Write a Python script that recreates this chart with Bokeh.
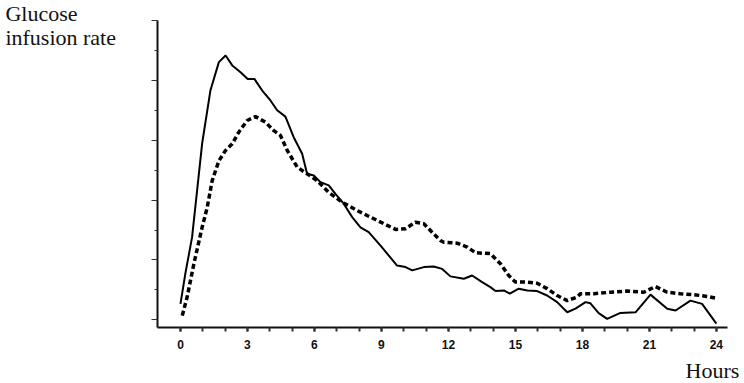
from bokeh.plotting import figure
from bokeh.models import Range1d, FixedTicker, Label
from bokeh.embed import file_html
from bokeh.resources import INLINE

# Solid curve (hours, glucose infusion rate, arbitrary units)
solid_hours = [0.0, 0.22, 0.52, 0.97, 1.34, 1.72, 2.02, 2.32, 2.69, 3.01, 3.31, 3.66, 4.03,
               4.33, 4.70, 5.07, 5.45, 5.67, 5.97, 6.27, 6.64, 6.94, 7.31, 7.69, 8.06, 8.43,
               8.96, 9.70, 10.08, 10.38, 10.90, 11.34, 11.72, 12.09, 12.69, 13.06, 13.51,
               13.88, 14.11, 14.48, 14.75, 15.15, 15.53, 15.97, 16.42, 16.87, 17.32, 17.69,
               18.14, 18.36, 18.73, 19.11, 19.70, 20.38, 21.05, 21.80, 22.17, 22.84, 23.36, 24.0]
solid_rate = [0.53, 1.55, 2.76, 5.89, 7.66, 8.61, 8.83, 8.50, 8.27, 8.05, 8.05, 7.66, 7.33,
              7.00, 6.79, 6.10, 5.55, 4.88, 4.82, 4.60, 4.49, 4.21, 3.88, 3.43, 3.09, 2.93,
              2.48, 1.81, 1.76, 1.65, 1.76, 1.78, 1.70, 1.45, 1.37, 1.48, 1.26,
              1.09, 0.96, 0.98, 0.87, 1.04, 0.98, 0.96, 0.81, 0.59, 0.25, 0.37,
              0.59, 0.55, 0.22, 0.03, 0.23, 0.25, 0.84, 0.37, 0.31, 0.64, 0.53, -0.13]

# Dashed curve
dashed_hours = [0.08, 0.30, 0.60, 0.97, 1.20, 1.42, 1.72, 2.02, 2.32, 2.61, 2.99, 3.36, 3.81,
                4.18, 4.48, 4.78, 5.23, 5.67, 6.12, 6.64, 7.24, 7.91, 8.81, 9.63, 10.08, 10.52,
                10.90, 11.34, 11.64, 11.79, 12.39, 12.84, 13.21, 13.88, 14.33, 14.70, 15.00,
                15.53, 15.97, 16.42, 16.87, 17.32, 17.77, 17.91, 18.51, 19.26, 20.00, 20.75,
                21.27, 21.80, 22.39, 22.99, 23.59, 24.0]
dashed_rate = [0.14, 0.76, 1.87, 3.09, 3.76, 4.65, 5.31, 5.66, 5.88, 6.27, 6.66, 6.79, 6.60,
               6.32, 6.16, 5.66, 5.10, 4.88, 4.65, 4.26, 3.93, 3.65, 3.32, 3.02, 3.04, 3.26,
               3.21, 2.87, 2.65, 2.59, 2.56, 2.43, 2.24, 2.21, 1.87, 1.48, 1.26,
               1.26, 1.22, 1.04, 0.81, 0.64, 0.76, 0.87, 0.87, 0.92, 0.96, 0.92,
               1.11, 0.92, 0.87, 0.84, 0.78, 0.72]

x_major_ticks = [0, 3, 6, 9, 12, 15, 18, 21, 24]
x_minor_ticks = list(range(0, 25))
y_major_ticks = [0, 2, 4, 6, 8, 10]
y_minor_ticks = [1, 3, 5, 7, 9]

X_AXIS_AT = -0.26   # y value where the hour axis runs
Y_AXIS_AT = -1.03   # x value where the rate axis runs

p = figure(width=744, height=383, output_backend="svg", toolbar_location=None,
           x_range=Range1d(-8.06, 25.26), y_range=Range1d(-2.13, 10.67),
           min_border=0)
p.outline_line_color = None
p.xgrid.visible = False
p.ygrid.visible = False
p.background_fill_color = "white"
p.border_fill_color = "white"

xa = p.xaxis[0]
xa.fixed_location = X_AXIS_AT
xa.bounds = (Y_AXIS_AT, 24.5)
xa.ticker = FixedTicker(ticks=x_major_ticks, minor_ticks=x_minor_ticks)
xa.axis_line_width = 2
xa.axis_line_color = "#111111"
xa.major_tick_in = 0
xa.major_tick_out = 4
xa.minor_tick_in = 0
xa.minor_tick_out = 4
xa.major_tick_line_width = 2
xa.minor_tick_line_width = 2
xa.major_tick_line_color = "#333333"
xa.minor_tick_line_color = "#333333"
xa.major_label_text_font = "Liberation Sans"
xa.major_label_text_font_style = "bold"
xa.major_label_text_font_size = "12px"
xa.major_label_text_color = "#111111"
xa.major_label_standoff = 8

ya = p.yaxis[0]
ya.fixed_location = Y_AXIS_AT
ya.bounds = (X_AXIS_AT, 10.0)
ya.ticker = FixedTicker(ticks=y_major_ticks, minor_ticks=y_minor_ticks)
ya.axis_line_width = 2
ya.axis_line_color = "#111111"
ya.major_tick_in = 0
ya.major_tick_out = 6
ya.minor_tick_in = 0
ya.minor_tick_out = 3
ya.major_tick_line_color = "#333333"
ya.minor_tick_line_color = "#333333"
ya.major_label_overrides = {t: "" for t in y_major_ticks}
ya.major_label_text_font_size = "1px"

p.line(solid_hours, solid_rate, line_color="black", line_width=2)
p.line(dashed_hours, dashed_rate, line_color="black", line_width=3.5, line_dash="5 3")

for txt, yy in [("Glucose", 10.23), ("infusion rate", 9.43)]:
    p.add_layout(Label(x=-7.84, y=yy, text=txt, text_font="Liberation Serif",
                       text_font_size="22px", text_color="#111111",
                       text_baseline="alphabetic", text_align="left"))
p.add_layout(Label(x=22.62, y=-1.70, text="Hours", text_font="Liberation Serif",
                   text_font_size="22px", text_color="#111111",
                   text_baseline="alphabetic", text_align="left"))

open("out.html", "w").write(file_html(p, INLINE))
